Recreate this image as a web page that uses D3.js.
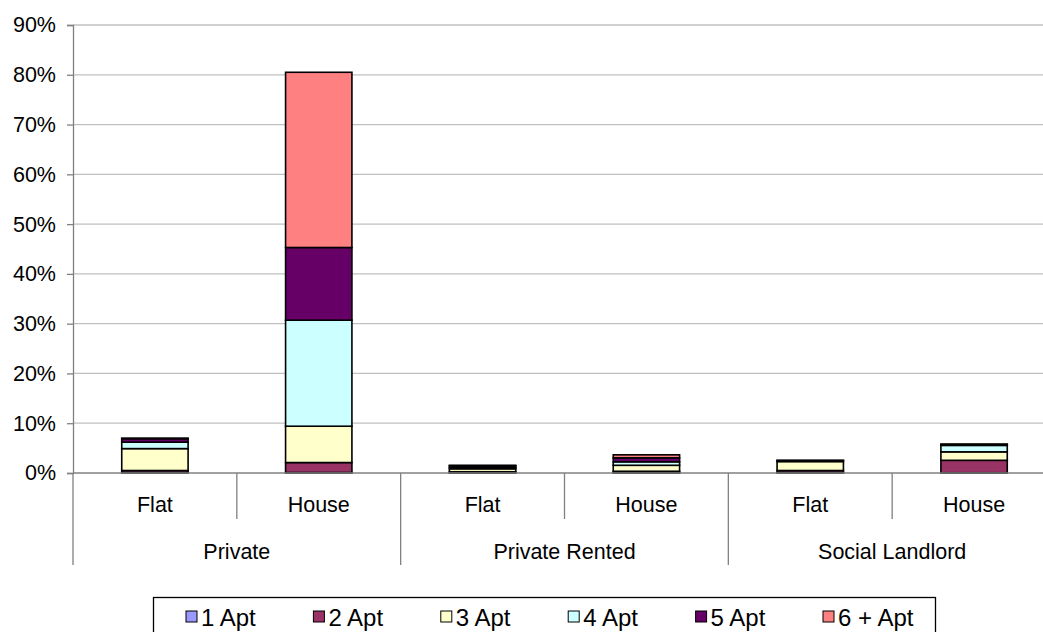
<!DOCTYPE html>
<html>
<head>
<meta charset="utf-8">
<script src="https://cdn.jsdelivr.net/npm/d3@7"></script>
<style>
  html, body { margin: 0; padding: 0; background: #fff; overflow: hidden; }
  svg { display: block; font-family: "Liberation Sans", Arial, sans-serif; }
</style>
</head>
<body>
<svg id="chart" width="1043" height="632"></svg>
<script>
// Household tenure / dwelling type, share of households by number of apartments (rooms)
const groups = ["Private", "Private Rented", "Social Landlord"];
const types = ["Flat", "House"];
const categories = [
  ["Private", "Flat"], ["Private", "House"],
  ["Private Rented", "Flat"], ["Private Rented", "House"],
  ["Social Landlord", "Flat"], ["Social Landlord", "House"]
];
const seriesNames = ["1 Apt", "2 Apt", "3 Apt", "4 Apt", "5 Apt", "6 + Apt"];
const seriesColors = ["#9999FF", "#993366", "#FFFFCC", "#CCFFFF", "#660066", "#FF8080"];

// Percent values per series, one entry per category above
const apt1 = [0.1, 0.1, 0.05, 0.05, 0.1, 0.05];
const apt2 = [0.4, 2.0, 0.2, 0.3, 0.4, 2.5];
const apt3 = [4.4, 7.3, 0.6, 1.2, 1.8, 1.7];
const apt4 = [1.3, 21.3, 0.3, 0.7, 0.2, 1.3];
const apt5 = [0.7, 14.6, 0.3, 0.8, 0.05, 0.2];
const apt6 = [0.1, 35.2, 0.1, 0.6, 0.0, 0.05];
const yTicks = [0, 10, 20, 30, 40, 50, 60, 70, 80, 90];

const seriesValues = [apt1, apt2, apt3, apt4, apt5, apt6];
const rows = categories.map((c, i) => {
  const r = { key: c.join("|") };
  seriesNames.forEach((s, j) => { r[s] = seriesValues[j][i]; });
  return r;
});

const svg = d3.select("#chart");
const plotLeft = 73, plotRight = 1056, plotTop = 25, plotBottom = 473;
const fontSize = 21.5;
const legendFontSize = 24;

const x = d3.scaleBand().domain(rows.map(r => r.key)).range([plotLeft, plotRight])
  .paddingInner(0.595).paddingOuter(0.2975);
const band = (plotRight - plotLeft) / categories.length;
const y = d3.scaleLinear().domain([0, 90]).range([plotBottom, plotTop]);

// Gridlines
svg.append("g").selectAll("line").data(yTicks.filter(t => t > 0)).join("line")
  .attr("x1", plotLeft).attr("x2", plotRight)
  .attr("y1", d => y(d)).attr("y2", d => y(d))
  .attr("stroke", "#c0c0c0").attr("stroke-width", 1.3);

// Stacked bars
const stack = d3.stack().keys(seriesNames)(rows);
svg.append("g").selectAll("g").data(stack).join("g")
  .attr("fill", (d, i) => seriesColors[i])
  .selectAll("rect").data(d => d).join("rect")
  .attr("x", d => x(d.data.key))
  .attr("width", x.bandwidth())
  .attr("y", d => y(d[1]))
  .attr("height", d => Math.max(0, y(d[0]) - y(d[1])))
  .attr("stroke", "#000").attr("stroke-width", 1.6);

// Y axis
const yAxis = d3.axisLeft(y).tickValues(yTicks).tickFormat(d => d + "%").tickSize(6).tickPadding(11);
const ya = svg.append("g").attr("transform", `translate(${plotLeft},0)`).call(yAxis);
ya.select(".domain").attr("stroke", "#808080").attr("stroke-width", 1.3);
ya.selectAll(".tick line").attr("stroke", "#808080").attr("stroke-width", 1.3);
ya.selectAll(".tick text").attr("font-size", fontSize).attr("fill", "#000")
  .attr("font-family", "'Liberation Sans', Arial, sans-serif");

// X axis baseline
svg.append("line").attr("x1", plotLeft).attr("x2", plotRight).attr("y1", plotBottom).attr("y2", plotBottom)
  .attr("stroke", "#808080").attr("stroke-width", 1.3);

// Two-level category axis
const cat = svg.append("g");
categories.forEach((c, i) => {
  const cx = plotLeft + band * (i + 0.5);
  cat.append("text").attr("x", cx).attr("y", 512).attr("text-anchor", "middle")
    .attr("font-size", fontSize).text(c[1]);
  if (i % 2 === 1) {
    // separator between Flat and House within a group
    cat.append("line").attr("x1", plotLeft + band * i).attr("x2", plotLeft + band * i)
      .attr("y1", plotBottom).attr("y2", 519).attr("stroke", "#808080").attr("stroke-width", 1.3);
  }
});
groups.forEach((g, i) => {
  const gx = plotLeft + band * types.length * (i + 0.5);
  cat.append("text").attr("x", gx).attr("y", 559).attr("text-anchor", "middle")
    .attr("font-size", fontSize).text(g);
});
d3.range(groups.length + 1).forEach(i => {
  const gx = plotLeft + band * types.length * i;
  cat.append("line").attr("x1", gx).attr("x2", gx).attr("y1", plotBottom).attr("y2", 565)
    .attr("stroke", "#808080").attr("stroke-width", 1.3);
});

// Legend
const leg = svg.append("g");
leg.append("rect").attr("x", 153.5).attr("y", 597.5).attr("width", 782).attr("height", 45)
  .attr("fill", "#fff").attr("stroke", "#000").attr("stroke-width", 1.3);
seriesNames.forEach((s, i) => {
  const lx = 186 + i * 127.4;
  leg.append("rect").attr("x", lx).attr("y", 611).attr("width", 11).attr("height", 11)
    .attr("fill", seriesColors[i]).attr("stroke", "#000").attr("stroke-width", 1);
  leg.append("text").attr("x", lx + 15).attr("y", 626).attr("font-size", legendFontSize).text(s);
});
</script>
</body>
</html>
